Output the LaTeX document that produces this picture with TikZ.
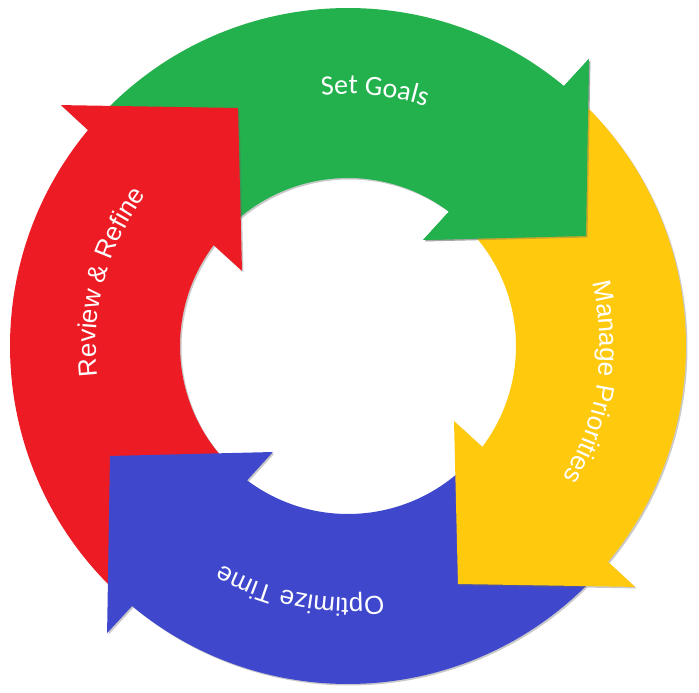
\documentclass[tikz,border=0pt]{standalone}
\usepackage{fontspec}
\setmainfont{Liberation Sans}
\newfontfamily\goalfont{Carlito}
\usepackage{tikz}
\usetikzlibrary{decorations.text,shadows}
\definecolor{goalgreen}{RGB}{34,177,76}
\definecolor{prioyellow}{RGB}{255,201,14}
\definecolor{timeblue}{RGB}{63,72,204}
\definecolor{reviewred}{RGB}{237,28,36}
\newcommand{\labelfont}{\fontsize{26}{30}\selectfont}
% one arrow of the cycle: #1 = turn in degrees, #2 = colour
\newcommand{\cyclearrow}[2]{\fill[arrowpiece,fill=#2] (134.7+#1:338pt) arc[start angle=134.7+#1, end angle=50.3+#1, radius=338pt] -- (50+#1:374.8pt) -- (24.8+#1:262.2pt) -- (54.7+#1:129.9pt) -- (53.1+#1:168pt) arc[start angle=53.1+#1, end angle=134+#1, radius=168pt] -- cycle;}
% only the head, to lay it again over the next tail
\newcommand{\cyclehead}[2]{\fill[arrowpiece,fill=#2] (50+#1:374.8pt) -- (24.8+#1:262.2pt) -- (54.7+#1:129.9pt) -- cycle;}

\begin{document}
\begin{tikzpicture}[% styles for the arrows and the curved labels
					arrowpiece/.style={
						drop shadow={shadow xshift=1.5pt,shadow yshift=-1.5pt,opacity=0.35,fill=black!60}
						},
					cyclelabel/.style={decorate,
						decoration={text along path,text align=center,text color=white}
						}
					]
\useasboundingbox (-348pt,-347pt) rectangle (351pt,346pt);
% each head lies over the tail of the next arrow
\cyclearrow{0}{goalgreen}
\cyclearrow{90}{reviewred}
\cyclearrow{180}{timeblue}
\cyclearrow{270}{prioyellow}
\cyclehead{0}{goalgreen}
\path[cyclelabel,decoration={text={|\goalfont\fontsize{28}{32}\selectfont|Set Goals}}] (134:252pt) arc[start angle=134, end angle=34, radius=252pt];
\path[cyclelabel,decoration={text={|\labelfont|Manage Priorities}}] (41.5:252pt) arc[start angle=41.5, end angle=-58.5, radius=252pt];
\path[cyclelabel,decoration={text={|\labelfont|Optimize Time}}] (-51:252pt) arc[start angle=-51, end angle=-151, radius=252pt];
\path[cyclelabel,decoration={text={|\labelfont|Review {\&} Refine}}] (215:252pt) arc[start angle=215, end angle=115, radius=252pt];
\end{tikzpicture}
\end{document}
